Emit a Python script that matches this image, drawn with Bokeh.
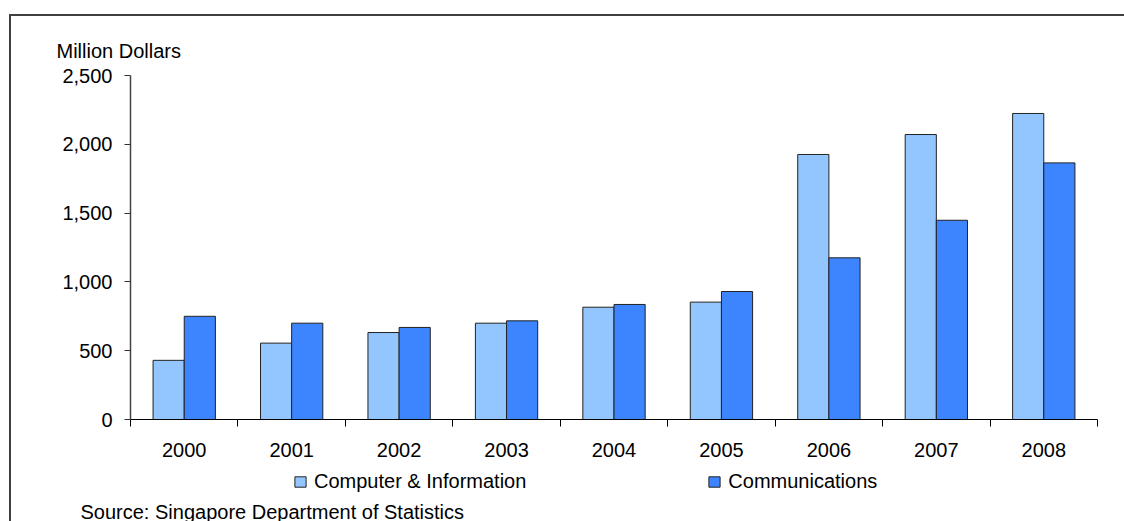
import numpy as np
from bokeh.plotting import figure
from bokeh.layouts import column
from bokeh.models import (ColumnDataSource, FixedTicker, NumeralTickFormatter, Legend,
                          LegendItem, Title, Label, Range1d)
from bokeh.embed import file_html
from bokeh.resources import INLINE

years = ["2000", "2001", "2002", "2003", "2004", "2005", "2006", "2007", "2008"]
computer_info = [430, 555, 632, 700, 816, 853, 1926, 2071, 2224]
communications = [750, 700, 669, 717, 836, 930, 1175, 1448, 1865]
y_ticks = [0, 500, 1000, 1500, 2000, 2500]
series_names = ["Computer & Information", "Communications"]

FONT = "Liberation Sans"
LIGHT = "#93C6FF"
DARK = "#3D85FF"
BAR_W = 0.29

idx = np.arange(len(years))
src = ColumnDataSource(dict(
    xl=idx + 0.5 - BAR_W / 2,
    xd=idx + 0.5 + BAR_W / 2,
    ci=computer_info,
    co=communications,
))

# ---- main chart ----
p = figure(width=1113, height=455, output_backend="svg", toolbar_location=None,
           x_range=Range1d(0, len(years)), y_range=Range1d(0, 2500),
           min_border_left=119, min_border_right=27, min_border_top=59, min_border_bottom=52)
p.frame_align = False
p.outline_line_color = None
p.grid.visible = False
p.background_fill_color = "white"
p.border_fill_color = "white"

p.vbar(x="xl", top="ci", width=BAR_W, source=src, fill_color=LIGHT,
       line_color="#222222", line_width=1)
p.vbar(x="xd", top="co", width=BAR_W, source=src, fill_color=DARK,
       line_color="#222222", line_width=1)

xa = p.xaxis[0]
centres = [i + 0.5 for i in range(len(years))]
xa.ticker = FixedTicker(ticks=centres, minor_ticks=list(range(len(years) + 1)))
xa.major_label_overrides = {c: y for c, y in zip(centres, years)}
xa.major_tick_out = 0
xa.major_tick_in = 0
xa.minor_tick_out = 7
xa.minor_tick_in = 0
xa.minor_tick_line_color = "black"
xa.axis_line_color = "black"
xa.major_label_standoff = 16
xa.major_label_text_font = FONT
xa.major_label_text_font_size = "20px"
xa.major_label_text_color = "black"

ya = p.yaxis[0]
ya.ticker = FixedTicker(ticks=y_ticks, minor_ticks=[])
ya.formatter = NumeralTickFormatter(format="0,0")
ya.major_tick_out = 6
ya.major_tick_in = 0
ya.major_tick_line_color = "#333333"
ya.axis_line_color = "#444444"
ya.axis_line_width = 1.5
ya.major_label_standoff = 12
ya.major_label_text_font = FONT
ya.major_label_text_font_size = "20px"
ya.major_label_text_color = "black"

p.add_layout(Title(text="Million Dollars", align="left", offset=-74, standoff=27,
                   text_font=FONT, text_font_size="20px", text_font_style="normal",
                   text_color="black"), "above")

# ---- footer: legend + source ----
# ranges far away from the data, so the key renderers draw nothing inside the footer
f = figure(width=1113, height=50, output_backend="svg", toolbar_location=None,
           x_range=Range1d(1000, 1001), y_range=Range1d(10000, 10001),
           x_axis_type=None, y_axis_type=None,
           min_border_left=0, min_border_right=0, min_border_top=0, min_border_bottom=0)
f.frame_align = False
f.outline_line_color = None
f.grid.visible = False
f.background_fill_color = "white"
f.border_fill_color = "white"

g1 = f.vbar(x="xl", top="ci", width=BAR_W, source=src, fill_color=LIGHT,
            line_color="#222222", line_width=1)
g2 = f.vbar(x="xd", top="co", width=BAR_W, source=src, fill_color=DARK,
            line_color="#222222", line_width=1)

legend = Legend(items=[LegendItem(label=series_names[0], renderers=[g1]),
                       LegendItem(label=series_names[1], renderers=[g2])],
                orientation="horizontal", location=(282, 28),
                glyph_width=14, glyph_height=13, label_standoff=7, spacing=181,
                padding=0, margin=0, border_line_color=None, background_fill_alpha=0,
                label_text_font=FONT, label_text_font_size="20px", label_height=20,
                label_text_color="black")
f.add_layout(legend, "center")

f.add_layout(Label(x=69, y=10, x_units="screen", y_units="screen",
                   text="Source: Singapore Department of Statistics",
                   text_font=FONT, text_font_size="20px", text_baseline="alphabetic",
                   text_color="black"))

layout = column(p, f, spacing=0,
                styles={"margin-top": "14px", "margin-left": "9px",
                        "border-top": "2px solid #404040", "border-left": "2px solid #404040"})

open("out.html", "w").write(file_html(layout, INLINE))
